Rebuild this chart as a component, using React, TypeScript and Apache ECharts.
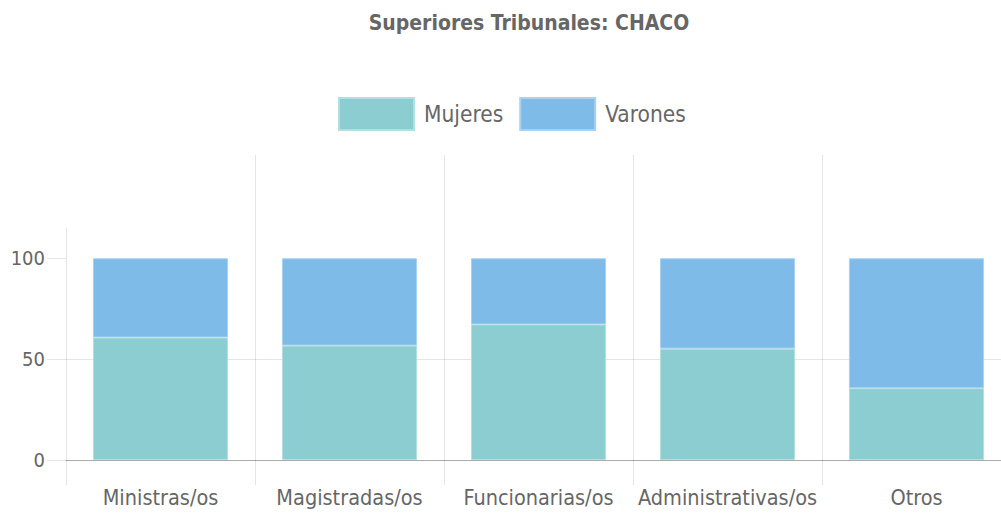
import React, { useEffect, useRef } from "react";
import * as echarts from "echarts";

const categories = ["Ministras/os", "Magistradas/os", "Funcionarias/os", "Administrativas/os", "Otros"];
const mujeres = [60.7, 56.7, 67.2, 55.2, 35.6];
const varones = [39.3, 43.3, 32.8, 44.8, 64.4];
const yTicks = [0, 50, 100];

const FONT = "'DejaVu Sans Condensed', 'Liberation Sans', sans-serif";
const GRID_COLOR = "rgba(0,0,0,0.1)";

export default function App() {
  const ref = useRef<HTMLDivElement>(null);
  useEffect(() => {
    if (!ref.current) return;
    const chart = echarts.init(ref.current, undefined, { renderer: "svg" });
    chart.setOption({
      animation: false,
      title: {
        text: "Superiores Tribunales: CHACO",
        left: 524,
        textAlign: "center",
        top: 7,
        textStyle: { fontFamily: FONT, fontSize: 21, fontWeight: "bold", color: "#666" },
      },
      legend: {
        left: 333,
        top: 92,
        icon: "rect",
        itemWidth: 75,
        itemHeight: 32,
        itemGap: 16,
        textStyle: { fontFamily: FONT, fontSize: 22.5, color: "#666", padding: [0, 0, 0, 5] },
        data: ["Mujeres", "Varones"],
      },
      grid: [
        { left: 66, right: 0, top: 228, bottom: 56, containLabel: false },
        { left: 66, right: 0, top: 155, bottom: 56, containLabel: false },
      ],
      xAxis: [
        {
          type: "category",
          gridIndex: 0,
          data: categories,
          axisLine: { show: true, lineStyle: { color: "rgba(0,0,0,0.25)", width: 1 } },
          axisTick: { show: true, length: 25, lineStyle: { color: GRID_COLOR } },
          axisLabel: { interval: 0, fontFamily: FONT, fontSize: 21.5, color: "#666", margin: 26 },
          splitLine: { show: false },
        },
        {
          type: "category",
          gridIndex: 1,
          data: categories,
          axisLine: { show: false },
          axisTick: { show: false },
          axisLabel: { show: false },
          splitLine: { show: true, showMinLine: false, lineStyle: { color: GRID_COLOR } },
        },
      ],
      yAxis: [
        {
          type: "value",
          gridIndex: 0,
          min: 0,
          max: 115,
          interval: 50,
          axisLine: { show: true, lineStyle: { color: GRID_COLOR } },
          axisTick: { show: true, length: 19, customValues: yTicks, lineStyle: { color: GRID_COLOR } },
          axisLabel: { customValues: yTicks, fontFamily: FONT, fontSize: 20, color: "#666", margin: 21 },
          splitLine: { show: true, showMaxLine: false, lineStyle: { color: GRID_COLOR } },
        },
        {
          type: "value",
          gridIndex: 1,
          show: false,
          splitLine: { show: false },
        },
      ],
      series: [
        {
          name: "Mujeres",
          type: "bar",
          stack: "total",
          xAxisIndex: 0,
          yAxisIndex: 0,
          barWidth: "71.5%",
          data: mujeres,
          itemStyle: { color: "#8BCDD1", borderColor: "#B4DFE1", borderWidth: 1 },
        },
        {
          name: "Varones",
          type: "bar",
          stack: "total",
          xAxisIndex: 0,
          yAxisIndex: 0,
          barWidth: "71.5%",
          data: varones,
          itemStyle: { color: "#7FBBE8", borderColor: "#A9D2F0", borderWidth: 1 },
        },
      ],
    });
    return () => chart.dispose();
  }, []);
  return (
    <div style={{ width: 1001, height: 516, position: "absolute", left: 0, top: 0, overflow: "hidden" }}>
      <div ref={ref} style={{ width: 1011, height: 516 }} />
    </div>
  );
}
